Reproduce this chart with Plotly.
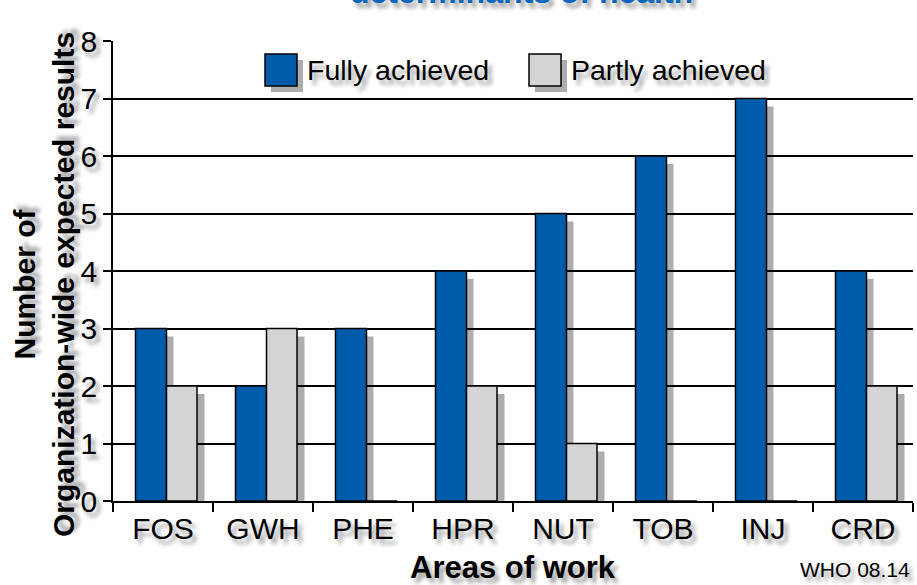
import plotly.graph_objects as go

categories = ["FOS", "GWH", "PHE", "HPR", "NUT", "TOB", "INJ", "CRD"]
fully_achieved = [3, 2, 3, 4, 5, 6, 7, 4]
partly_achieved = [2, 3, 0, 2, 1, 0, 0, 2]
y_ticks = [0, 1, 2, 3, 4, 5, 6, 7, 8]

BLUE = "#005bab"
GREY = "#d4d4d6"
SHADOW = "rgba(0,0,0,0.32)"
FONT = "Liberation Sans, Arial, sans-serif"
TXT_SHADOW = "4px 5px 4px rgba(0,0,0,0.38)"

fig = go.Figure()

# drop shadows of the bars
for vals, off in ((fully_achieved, -0.205), (partly_achieved, 0.105)):
    fig.add_trace(go.Bar(x=categories, y=vals, base=-0.14, offset=off, width=0.31,
                         marker=dict(color=SHADOW, line=dict(width=0)),
                         showlegend=False, hoverinfo="skip"))

fig.add_trace(go.Bar(x=categories, y=fully_achieved, name="Fully achieved",
                     offset=-0.275, width=0.31,
                     marker=dict(color=BLUE, line=dict(color="black", width=1.5))))
fig.add_trace(go.Bar(x=categories, y=partly_achieved, name="Partly achieved",
                     offset=0.035, width=0.305,
                     marker=dict(color=GREY, line=dict(color="black", width=1.5))))

fig.update_layout(
    width=917, height=585,
    barmode="overlay",
    showlegend=False,
    paper_bgcolor="white", plot_bgcolor="white",
    margin=dict(l=113, r=4, t=41, b=84),
    font=dict(family=FONT, color="black"),
    xaxis=dict(tickson="boundaries", ticks="outside", ticklen=9, tickwidth=1.5,
               tickcolor="black", showline=True, linecolor="black", linewidth=1.5,
               showgrid=False,
               tickfont=dict(size=30, family=FONT, shadow=TXT_SHADOW)),
    yaxis=dict(range=[0, 8], tickvals=y_ticks, ticks="outside", ticklen=8,
               tickwidth=1.5, tickcolor="black", showline=True, linecolor="black",
               linewidth=1.5, gridcolor="black", gridwidth=1.5, zeroline=False,
               tickfont=dict(size=30, family=FONT, shadow=TXT_SHADOW)),
)

# title, cut off at the top edge as in the reference
fig.add_annotation(text="<b>determinants of health</b>", xref="paper", yref="paper",
                   x=0.51, y=1.062, xanchor="center", yanchor="bottom", showarrow=False,
                   font=dict(size=32, color="#0a67bd", family=FONT, shadow=TXT_SHADOW))

# axis titles
fig.add_annotation(text="<b>Number of<br>Organization-wide expected results</b>",
                   xref="paper", yref="paper", x=-0.086, y=0.47, textangle=-90,
                   xanchor="center", yanchor="middle", showarrow=False,
                   font=dict(size=30, family=FONT, shadow=TXT_SHADOW))
fig.add_annotation(text="<b>Areas of work</b>", xref="paper", yref="paper",
                   x=0.5, y=-0.145, xanchor="center", yanchor="middle", showarrow=False,
                   font=dict(size=31, family=FONT, shadow=TXT_SHADOW))
fig.add_annotation(text="WHO 08.14", xref="paper", yref="paper",
                   x=0.999, y=-0.148, xanchor="right", yanchor="middle", showarrow=False,
                   font=dict(size=21, family=FONT, shadow=TXT_SHADOW))

# legend drawn inside the plot
def px_x(p):
    return (p - 113) / 800

def px_y(p):
    return (501 - p) / 460

legend_items = [("Fully achieved", BLUE, 265), ("Partly achieved", GREY, 529)]
for label, color, x0 in legend_items:
    fig.add_shape(type="rect", xref="paper", yref="paper",
                  x0=px_x(x0 + 6), x1=px_x(x0 + 38), y0=px_y(92), y1=px_y(60),
                  fillcolor=SHADOW, line=dict(width=0), layer="above")
    fig.add_shape(type="rect", xref="paper", yref="paper",
                  x0=px_x(x0), x1=px_x(x0 + 32), y0=px_y(86), y1=px_y(54),
                  fillcolor=color, line=dict(color="black", width=1.5), layer="above")
    fig.add_annotation(text=label, xref="paper", yref="paper",
                       x=px_x(x0 + 40), y=px_y(70), xanchor="left", yanchor="middle",
                       showarrow=False,
                       font=dict(size=28.5, family=FONT, shadow=TXT_SHADOW))

fig.write_html("out.html", config={"displayModeBar": False},
               post_script="document.body.style.margin='0';"
                           "document.body.style.overflow='hidden';")
